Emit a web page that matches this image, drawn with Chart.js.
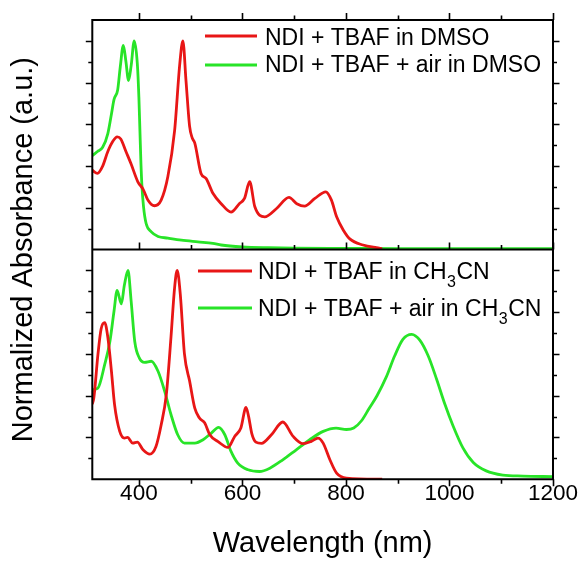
<!DOCTYPE html>
<html>
<head>
<meta charset="utf-8">
<script src="https://cdn.jsdelivr.net/npm/chart.js@4.4.1/dist/chart.umd.min.js"></script>
<style>
  html, body { margin: 0; padding: 0; background: #ffffff; }
  #wrap { width: 582px; height: 561px; }
</style>
</head>
<body>
<div id="wrap"><canvas id="c" width="582" height="561"></canvas></div>
<script>
// ---------- data ----------
const xTickLabels = [400, 600, 800, 1000, 1200];
const xMinorTicks = [400, 500, 600, 700, 800, 900, 1000, 1100, 1200];
const yTicks = [0.1, 0.2, 0.3, 0.4, 0.5, 0.6, 0.7, 0.8, 0.9, 1.0];

const seriesLabels = [
  'NDI + TBAF in DMSO',
  'NDI + TBAF + air in DMSO',
  'NDI + TBAF in CH_3CN',
  'NDI + TBAF + air in CH_3CN'
];

// top panel, red: NDI + TBAF in DMSO
const dmsoX = [310,320,330,340,350,358,365,375,385,398,408,418,430,443,456,469,479,485,491,498,503,508,520,530,543,559,578,594,604,614,624,643,666,690,705,720,740,761,772,782,795,808,833,859,870];
const dmsoY = [0.38,0.365,0.40,0.47,0.52,0.54,0.53,0.47,0.41,0.325,0.29,0.235,0.21,0.237,0.35,0.57,0.89,1.0,0.81,0.59,0.535,0.51,0.365,0.34,0.27,0.22,0.18,0.22,0.245,0.325,0.205,0.157,0.197,0.25,0.22,0.208,0.245,0.277,0.237,0.157,0.093,0.05,0.022,0.009,0.005];

// top panel, green: NDI + TBAF + air in DMSO
const dmsoAirX = [310,320,330,340,347,352,359,364,370,375,380,385,391,397,400,402,404,406,409,414,424,437,456,482,514,543,559,600,650,700,800,900,1000,1100,1200];
const dmsoAirY = [0.45,0.47,0.49,0.556,0.65,0.72,0.765,0.875,0.978,0.90,0.81,0.88,1.0,0.89,0.73,0.57,0.41,0.30,0.205,0.125,0.085,0.063,0.055,0.045,0.037,0.03,0.022,0.013,0.009,0.007,0.006,0.005,0.005,0.005,0.005];

// bottom panel, red: NDI + TBAF in CH3CN
const mecnX = [310,313,321,327,334,340,347,353,363,372,378,388,397,408,421,433,443,453,462,469,474,480,488,498,508,517,527,537,553,572,585,597,607,612,618,626,637,656,678,698,717,733,746,756,769,782,801,870];
const mecnY = [0.36,0.39,0.60,0.72,0.75,0.68,0.517,0.357,0.229,0.197,0.20,0.173,0.178,0.141,0.12,0.157,0.26,0.405,0.68,0.918,1.0,0.886,0.60,0.47,0.34,0.293,0.27,0.213,0.18,0.152,0.205,0.245,0.344,0.30,0.22,0.178,0.172,0.213,0.274,0.205,0.17,0.181,0.197,0.173,0.093,0.029,0.005,0.0];

// bottom panel, green: NDI + TBAF + air in CH3CN
const mecnAirX = [310,313,321,334,344,352,358,366,372,379,385,392,401,411,424,437,450,462,475,488,508,524,540,554,566,578,591,611,633,653,678,704,730,756,781,801,815,830,845,860,878,894,910,927,943,959,975,991,1007,1026,1046,1071,1103,1142,1200];
const mecnAirY = [0.42,0.43,0.437,0.55,0.66,0.806,0.905,0.84,0.93,1.0,0.854,0.66,0.58,0.56,0.565,0.517,0.42,0.31,0.213,0.173,0.173,0.189,0.221,0.248,0.213,0.133,0.077,0.045,0.037,0.053,0.093,0.141,0.189,0.229,0.245,0.238,0.245,0.28,0.34,0.40,0.49,0.59,0.67,0.694,0.665,0.59,0.48,0.36,0.255,0.15,0.08,0.04,0.02,0.015,0.012];

// ---------- chart ----------
const RED = 'rgb(232,22,22)';
const GREEN = 'rgb(40,228,40)';
const FONT = "'Liberation Sans', Arial, sans-serif";

function pts(xs, ys) { return xs.map((x, i) => ({ x: x, y: ys[i] })); }

const framePlugin = {
  id: 'frameAndLegend',
  afterDatasetsDraw(chart) {
    const ctx = chart.ctx;
    const x = chart.scales.x, yT = chart.scales.yTop, yB = chart.scales.yBot;
    const L = x.getPixelForValue(x.min), R = x.getPixelForValue(x.max);
    const T = yT.getPixelForValue(yT.max), M = yT.getPixelForValue(0), B = yB.getPixelForValue(0);
    ctx.save();
    ctx.strokeStyle = '#000';
    ctx.lineCap = 'butt';
    // tick marks
    ctx.lineWidth = 1.6;
    ctx.beginPath();
    xMinorTicks.forEach(v => {
      const p = Math.round(x.getPixelForValue(v)) + 0.5;
      const major = xTickLabels.includes(v);
      const len = major ? 7 : 4.5;
      ctx.moveTo(p, B); ctx.lineTo(p, B + len);
      ctx.moveTo(p, M); ctx.lineTo(p, M - len);
      ctx.moveTo(p, T); ctx.lineTo(p, T - len);
    });
    [yT, yB].forEach(sc => {
      yTicks.forEach((v, i) => {
        const p = Math.round(sc.getPixelForValue(v)) + 0.5;
        const len = (i % 2 === 1) ? 6.5 : 4;
        ctx.moveTo(L, p); ctx.lineTo(L - len, p);
        ctx.moveTo(R, p); ctx.lineTo(R + len, p);
      });
    });
    ctx.stroke();
    // frame
    ctx.lineWidth = 2;
    ctx.beginPath();
    ctx.rect(L, T, R - L, B - T);
    ctx.moveTo(L, M); ctx.lineTo(R, M);
    ctx.stroke();

    // legends
    const items = [
      { ds: 0, lx1: 205, lx2: 257, ly: 36, tx: 265, base: 45 },
      { ds: 1, lx1: 205, lx2: 257, ly: 65, tx: 265, base: 72 },
      { ds: 2, lx1: 198, lx2: 252, ly: 271, tx: 258, base: 279 },
      { ds: 3, lx1: 198, lx2: 252, ly: 308, tx: 258, base: 316 }
    ];
    items.forEach(it => {
      const ds = chart.data.datasets[it.ds];
      ctx.strokeStyle = ds.borderColor;
      ctx.lineWidth = 2.8;
      ctx.beginPath();
      ctx.moveTo(it.lx1, it.ly); ctx.lineTo(it.lx2, it.ly);
      ctx.stroke();
      ctx.fillStyle = '#000';
      ctx.textBaseline = 'alphabetic';
      ctx.textAlign = 'left';
      let cx = it.tx;
      const parts = ds.label.split(/_(\d)/);
      parts.forEach((part, k) => {
        if (k % 2 === 1) {
          ctx.font = '16px ' + FONT;
          ctx.fillText(part, cx + 0.5, it.base + 8);
          cx += ctx.measureText(part).width + 1;
        } else {
          ctx.font = '23px ' + FONT;
          ctx.fillText(part, cx, it.base);
          cx += ctx.measureText(part).width;
        }
      });
    });
    ctx.restore();
  }
};

const commonDs = { pointRadius: 0, borderWidth: 2.8, fill: false, cubicInterpolationMode: 'monotone', xAxisID: 'x' };

new Chart(document.getElementById('c'), {
  type: 'line',
  data: {
    datasets: [
      Object.assign({ label: seriesLabels[0], data: pts(dmsoX, dmsoY), borderColor: RED, yAxisID: 'yTop' }, commonDs),
      Object.assign({ label: seriesLabels[1], data: pts(dmsoAirX, dmsoAirY), borderColor: GREEN, yAxisID: 'yTop' }, commonDs),
      Object.assign({ label: seriesLabels[2], data: pts(mecnX, mecnY), borderColor: RED, yAxisID: 'yBot' }, commonDs),
      Object.assign({ label: seriesLabels[3], data: pts(mecnAirX, mecnAirY), borderColor: GREEN, yAxisID: 'yBot' }, commonDs)
    ]
  },
  options: {
    responsive: false,
    animation: false,
    devicePixelRatio: 1,
    layout: { padding: { left: 0, right: 29, top: 20, bottom: 0 } },
    plugins: { legend: { display: false }, tooltip: { enabled: false } },
    scales: {
      x: {
        type: 'linear', position: 'bottom', min: 310, max: 1200,
        afterBuildTicks: (s) => { s.ticks = xTickLabels.map(v => ({ value: v })); },
        ticks: { color: '#000', font: { family: FONT, size: 22.5 }, padding: 1.5, maxRotation: 0, callback: (v) => String(v) },
        grid: { display: false, drawTicks: false },
        border: { display: false },
        title: { display: true, text: 'Wavelength (nm)', color: '#000', font: { family: FONT, size: 29 }, padding: { top: 17, bottom: 0 } }
      },
      yTop: {
        type: 'linear', position: 'left', min: -1.1, max: 1.1,
        ticks: { display: false },
        grid: { display: false, drawTicks: false },
        border: { display: false },
        title: { display: true, text: 'Normalized Absorbance (a.u.)', color: '#000', font: { family: FONT, size: 29 }, padding: { top: 7, bottom: 50.5 } }
      },
      yBot: {
        type: 'linear', position: 'left', min: 0, max: 2.2, display: false
      }
    }
  },
  plugins: [framePlugin]
});
</script>
</body>
</html>
